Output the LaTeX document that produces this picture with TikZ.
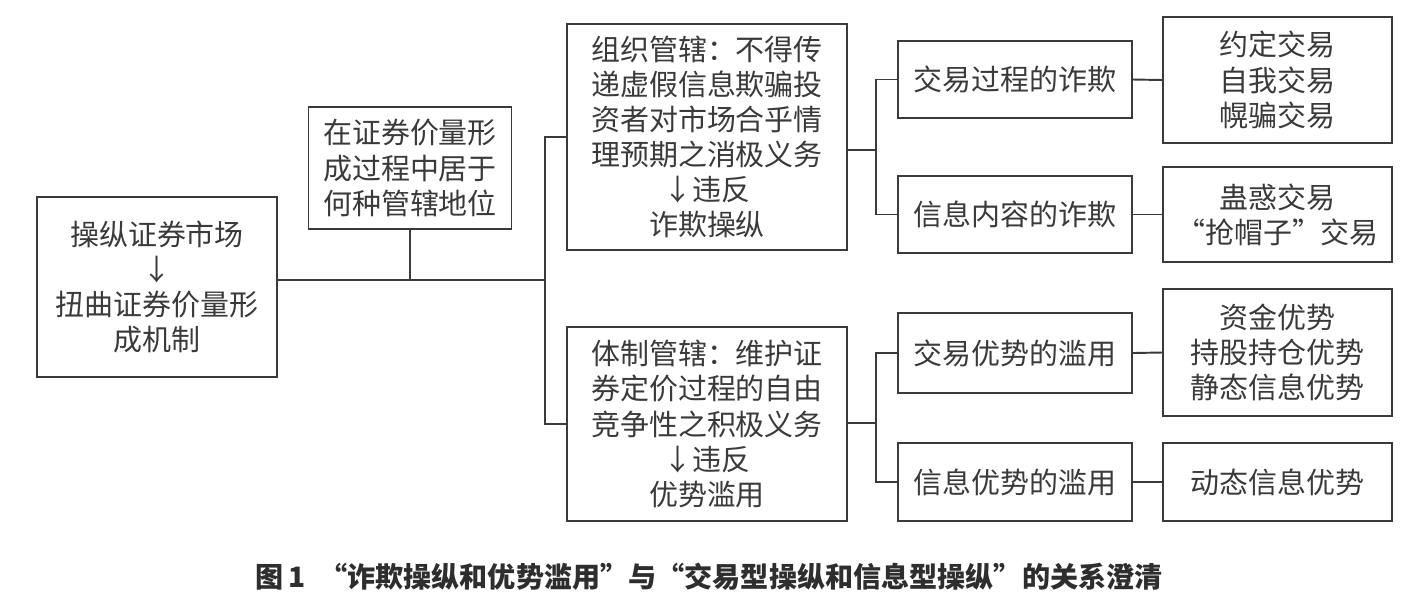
\documentclass[tikz,border=0pt]{standalone}
\usepackage{fontspec}
\setmainfont{Noto Sans CJK SC}
\usepackage{xcolor}
\usepackage{tikz}
\usetikzlibrary{positioning,calc}

\definecolor{ink}{HTML}{3A3A3A}

\begin{document}
\begin{tikzpicture}[x=0.02cm,y=-0.02cm,
  blk/.style={draw=ink,line width=1.1pt,text=ink,align=center,inner sep=0pt,
               font=\fontsize{16.5}{20}\selectfont},
  link/.style={draw=ink,line width=1.1pt}
]
\useasboundingbox (0,0) rectangle (1410,610);
% Root and question
\node[blk,minimum width=4.8cm,minimum height=3.6cm] (manip) at (157,287)
  {操纵证券市场\\↓\\扭曲证券价量形\\成机制};
\node[blk,minimum width=4.06cm,minimum height=2.44cm] (status) at (410,168)
  {在证券价量形\\成过程中居于\\何种管辖地位};
% Two jurisdictions
\node[blk,minimum width=5.6cm,minimum height=4.52cm] (orgj) at (707,137)
  {组织管辖：不得传\\递虚假信息欺骗投\\资者对市场合乎情\\理预期之消极义务\\↓违反\\诈欺操纵};
\node[blk,minimum width=5.6cm,minimum height=3.88cm] (sysj) at (707,424)
  {体制管辖：维护证\\券定价过程的自由\\竞争性之积极义务\\↓违反\\优势滥用};
% Middle column
\node[blk,minimum width=4.68cm,minimum height=1.54cm] (fraudA) at (1015,79.5) {交易过程的诈欺};
\node[blk,minimum width=4.68cm,minimum height=1.54cm] (fraudB) at (1015,214.5) {信息内容的诈欺};
\node[blk,minimum width=4.68cm,minimum height=1.6cm] (abuseA) at (1015,353) {交易优势的滥用};
\node[blk,minimum width=4.68cm,minimum height=1.56cm] (abuseB) at (1015,482) {信息优势的滥用};
% Right column
\node[blk,minimum width=4.58cm,minimum height=2.52cm] (kindA) at (1277.5,80)
  {约定交易\\自我交易\\幌骗交易};
\node[blk,minimum width=4.58cm,minimum height=1.9cm] (kindB) at (1277.5,214.5)
  {蛊惑交易\\“抢帽子”交易};
\node[blk,minimum width=4.58cm,minimum height=2.54cm] (kindC) at (1277.5,352.5)
  {资金优势\\持股持仓优势\\静态信息优势};
\node[blk,minimum width=4.58cm,minimum height=1.56cm] (kindD) at (1277.5,482) {动态信息优势};
% Junctions
\coordinate (trunk) at (545,280);
\coordinate (jorg) at (876,150);
\coordinate (jsys) at (876,423);
% Connectors
\draw[link] (manip.east |- trunk) -- (trunk);
\draw[link] (status.south) -- (status.south |- trunk);
\draw[link] (orgj.west) -| (trunk) |- (sysj.west);
\draw[link] (orgj.east |- jorg) -- (jorg);
\draw[link] (fraudA.west) -| (jorg) |- (fraudB.west);
\draw[link] (sysj.east |- jsys) -- (jsys);
\draw[link] (abuseA.west) -| (jsys) |- (abuseB.west);
\draw[link] (fraudA.east) -- (kindA.west);
\draw[link] (fraudB.east) -- (kindB.west);
\draw[link] (abuseA.east) -- (kindC.west);
\draw[link] (abuseB.east) -- (kindD.west);
% Caption
\node[text=ink!80!black,font=\fontsize{16}{19}\selectfont\bfseries] (caption) at (709,577)
  {图\,1\enskip “诈欺操纵和优势滥用”与“交易型操纵和信息型操纵”的关系澄清};
\end{tikzpicture}
\end{document}
